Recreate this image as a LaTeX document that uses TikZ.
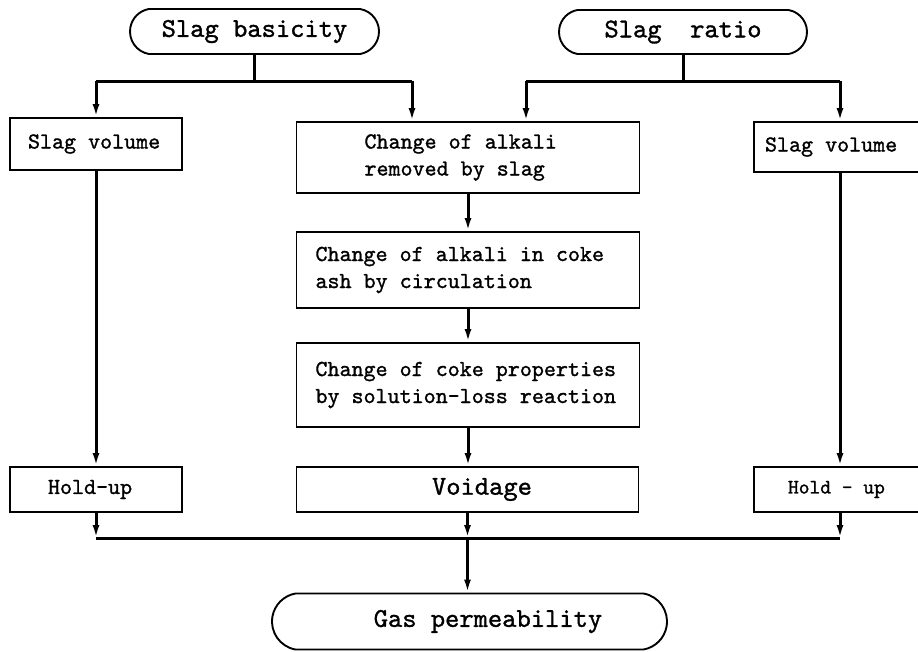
\documentclass[tikz,border=0pt]{standalone}
\usepackage{fontspec}
\newfontfamily\tw[Extension=.otf, FakeBold=1.2]{lmmono10-regular}
\usetikzlibrary{arrows.meta,shapes.misc}
\newcommand{\txtS}{\tw\fontsize{22.9}{27}\selectfont}
\newcommand{\txtL}{\tw\fontsize{27.2}{30}\selectfont}
\newcommand{\txtH}{\tw\fontsize{20.5}{24}\selectfont}
\begin{document}
\begin{tikzpicture}[x=1pt,y=-1pt,
  box/.style={draw, line width=1.9pt, rectangle, inner sep=0pt, font=\txtS, align=left,
    execute at begin node={\spaceskip=0pt\xspaceskip=0pt}},
  term/.style={draw, line width=1.9pt, rounded rectangle, rounded rectangle arc length=160, inner sep=0pt, font=\txtL},
  flow/.style={line width=3pt},
  arr/.style={line width=3pt, -{Latex[length=13pt,width=7pt]}}]
\useasboundingbox (0,0) rectangle (918,651);
\clip (0,0) rectangle (918,651);
\fill[white] (0,0) rectangle (918,651);

% nodes
\node[term, minimum width=249pt, minimum height=45pt] (basic) at (254.5,31.5) {Slag basicity};
\node[term, minimum width=248pt, minimum height=44pt] (ratio) at (683,32) {Slag~~ratio};

\node[box, minimum width=172pt, minimum height=52pt, text width=136pt] (svL) at (96,144) {Slag volume};
\node[box, minimum width=343pt, minimum height=71pt, text width=207pt] (alk1) at (468,157.5) {Change of alkali\\removed by slag};
\node[box, minimum width=172pt, minimum height=50pt, text width=150pt] (svR) at (840,147) {Slag volume};

\node[box, minimum width=343pt, minimum height=76pt, text width=305pt] (alk2) at (468,270) {Change of alkali in coke\\ash by circulation};
\node[box, minimum width=343pt, minimum height=84pt, text width=305pt] (alk3) at (468,385) {Change of coke properties\\by solution-loss reaction};

\node[box, minimum width=172pt, minimum height=45pt, text width=96pt] (holdL) at (96,489.5) {Hold-up};
\node[box, minimum width=342pt, minimum height=45pt, font=\txtL, align=center] (void) at (467.5,489.5) {\hspace*{29pt}Voidage};
\node[box, minimum width=172pt, minimum height=45pt, text width=104pt, font=\txtH] (holdR) at (840,489.5) {Hold - up};

\node[term, minimum width=395pt, minimum height=56pt] (gas) at (469.5,621.5) {\hspace*{37pt}Gas permeability};

% bus coordinates
\coordinate (topbus) at (0,81);
\coordinate (botbus) at (0,538);

% Slag basicity branches
\draw[flow] (basic.south) -- (basic.south |- topbus);
\coordinate (bL) at (svL.north |- topbus);
\coordinate (bR) at (412,81);
\draw[flow] (bL) -- (bR);
\draw[arr] (bL) -- (svL.north);
\draw[arr] (bR) -- (bR |- alk1.north);

% Slag ratio branches
\draw[flow] (ratio.south) -- (ratio.south |- topbus);
\coordinate (rL) at (526,81);
\coordinate (rR) at (svR.north |- topbus);
\draw[flow] (rL) -- (rR);
\draw[arr] (rL) -- (rL |- alk1.north);
\draw[arr] (rR) -- (svR.north);

% columns
\draw[arr] (svL.south) -- (holdL.north);
\draw[arr] (alk1.south) -- (alk2.north);
\draw[arr] (alk2.south) -- (alk3.north);
\draw[arr] (alk3.south) -- (alk3.south |- void.north);
\draw[arr] (svR.south) -- (svR.south |- holdR.north);

% bottom bus
\coordinate (dL) at (holdL.south |- botbus);
\coordinate (dM) at (void.south |- botbus);
\coordinate (dR) at (holdR.south |- botbus);
\draw[flow] (dL) -- (dR);
\draw[arr] (holdL.south) -- (dL);
\draw[arr] (void.south) -- (dM);
\draw[arr] (holdR.south) -- (dR);
\draw[arr] (dM) -- (dM |- gas.north);
\end{tikzpicture}
\end{document}
